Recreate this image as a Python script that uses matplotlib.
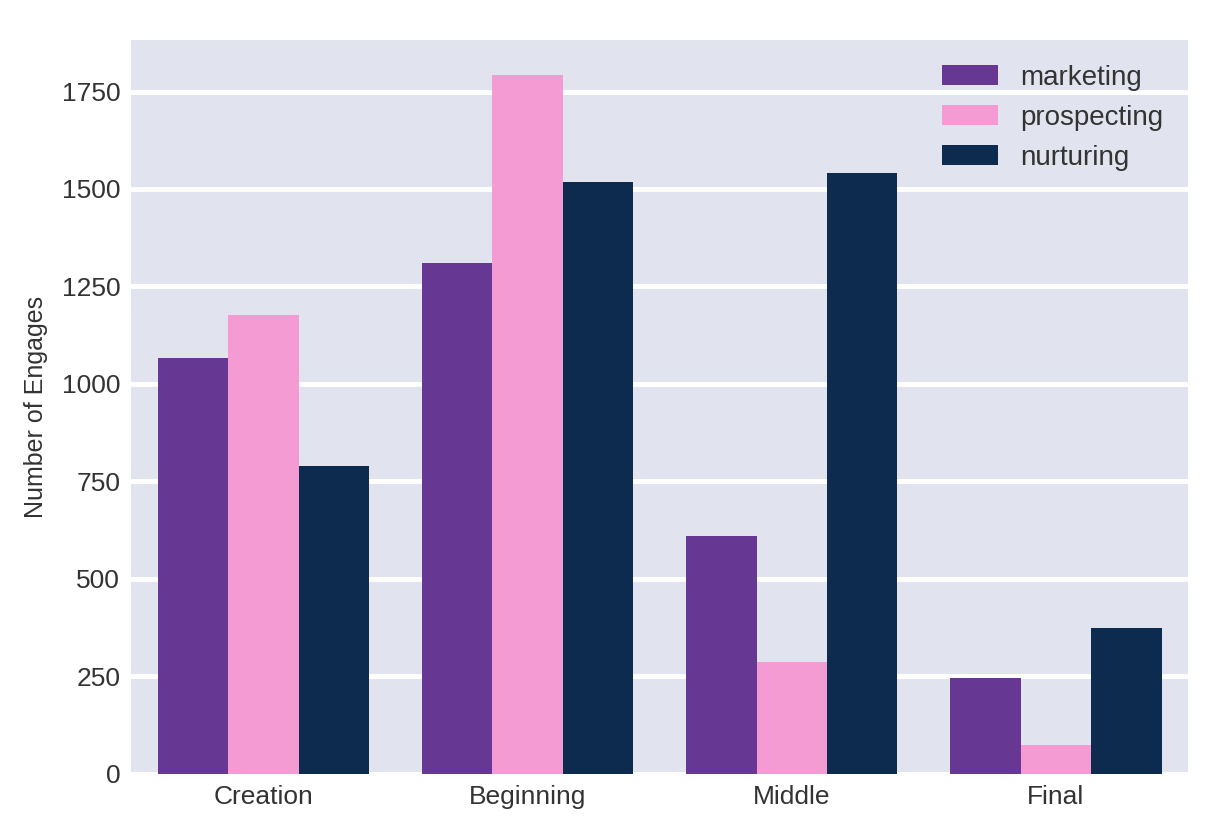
import numpy as np
import seaborn as sns
from matplotlib import pyplot as plt

stages = ['Creation', 'Beginning', 'Middle', 'Final']
series = ['marketing', 'prospecting', 'nurturing']
marketing = [1066, 1310, 610, 246]
prospecting = [1177, 1793, 287, 72]
nurturing = [789, 1517, 1540, 374]
colors = ['#673893', '#F59BD3', '#0D2A4F']

sns.set_style('darkgrid', {'axes.facecolor': '#E1E4EE', 'grid.color': 'white'})
plt.rcParams['font.family'] = ['Liberation Sans', 'DejaVu Sans']

fig, ax = plt.subplots(figsize=(12.16, 8.3), dpi=100)

# Draw grouped bars
x = np.arange(len(stages))
width = 0.8 / 3
for i, (name, values) in enumerate(zip(series, [marketing, prospecting, nurturing])):
	ax.bar(x + (i - 1) * width, values, width, color=colors[i], label=name, linewidth=0)

ax.set_xticks(x)
ax.set_xticklabels(stages)
ax.set_xlim(-0.5, 3.5)
ax.set_yticks([0, 250, 500, 750, 1000, 1250, 1500, 1750])
ax.grid(axis='x', visible=False)
ax.grid(axis='y', linewidth=3.5, color='white')
ax.set_axisbelow(True)
ax.tick_params(labelsize=19, colors='#333333', length=0, pad=8)
ax.set_ylabel('Number of Engages', fontsize=18, color='#333333', labelpad=10)
for s in ax.spines.values():
	s.set_visible(False)

ax.legend(loc='upper right', frameon=False, fontsize=20, handlelength=2.0, handleheight=0.75,
	handletextpad=0.8, labelspacing=0.5, labelcolor='#333333', borderaxespad=0.5)

fig.subplots_adjust(left=0.108, right=0.977, top=0.952, bottom=0.068)
plt.savefig('out.png')
